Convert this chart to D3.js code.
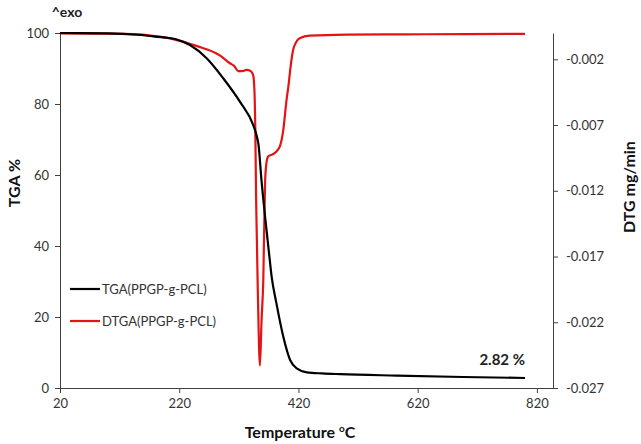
<!DOCTYPE html>
<html lang="en">
<head>
<meta charset="UTF-8">
<title>TGA / DTGA</title>
<style>
  body { margin: 0; background: #fff; }
  text { font-family: Lato, "Open Sans", sans-serif; }
</style>
</head>
<body>
<script src="https://d3js.org/d3.v7.min.js"></script>
<script>
// temperatures (°C) and TGA mass (%)
var tgaTemp = [20, 100, 150, 180, 213, 238, 266, 294, 322, 344, 350, 353, 358, 364, 370, 375, 383, 394.5, 406, 417, 434, 460, 490, 585, 696, 800];
var tgaMass = [100, 99.9, 99.5, 99.0, 98.3, 96.6, 92.9, 87.2, 80.6, 74.1, 71, 68.5, 58.5, 48.3, 39, 31.4, 23.9, 14.5, 7.9, 5.5, 4.4, 4.1, 3.9, 3.5, 3.1, 2.82];

// temperatures (°C) and DTG (mg/min)
var dtgTemp = [20, 100, 150, 190, 213, 250, 288, 305, 312, 319, 326, 333, 340, 344, 346, 347.5, 349, 352, 355.4, 358, 361, 364, 366, 369, 378, 385, 389, 394.5, 400, 403, 407, 411, 416, 422, 439, 500, 600, 700, 800];
var dtgVal = [-0.00003, -0.00005, -0.0001, -0.0003, -0.0005, -0.001, -0.0017, -0.0023, -0.0025, -0.0029, -0.0029, -0.0028, -0.0029, -0.0032, -0.0042, -0.007, -0.0127, -0.020, -0.0253, -0.022, -0.0188, -0.0114, -0.0100, -0.0094, -0.0092, -0.0089, -0.0086, -0.0074, -0.0051, -0.0041, -0.0025, -0.0013, -0.0007, -0.0004, -0.0002, -0.00012, -0.0001, -0.00008, -0.00007];

var xTicks = [20, 220, 420, 620, 820];
var leftTicks = [0, 20, 40, 60, 80, 100];
var rightTicks = [-0.027, -0.022, -0.017, -0.012, -0.007, -0.002];

var seriesNames = ["TGA(PPGP-g-PCL)", "DTGA(PPGP-g-PCL)"];
var seriesColors = ["#000000", "#e31414"];

var W = 641, H = 444;
var margin = { left: 60, right: 88, top: 33, bottom: 56 };
var axisColor = "#404040";

var svg = d3.select("body").append("svg")
    .attr("width", W)
    .attr("height", H);

var x = d3.scaleLinear().domain([20, 847]).range([margin.left, W - margin.right]);
var yL = d3.scaleLinear().domain([0, 100]).range([H - margin.bottom, margin.top]);
var yR = d3.scaleLinear().domain([-0.027, 0]).range([H - margin.bottom, margin.top]);

function styleAxis(g) {
  g.selectAll("path, line").attr("stroke", axisColor);
  g.selectAll("text").attr("fill", "#333").style("font-size", "13px")
   .style("font-family", "Lato, 'Open Sans', sans-serif");
}

// axes
svg.append("g")
  .attr("transform", "translate(0," + (H - margin.bottom) + ")")
  .call(d3.axisBottom(x).tickValues(xTicks).tickSize(5).tickSizeOuter(0).tickPadding(6))
  .call(styleAxis);

svg.append("g")
  .attr("transform", "translate(" + margin.left + ",0)")
  .call(d3.axisLeft(yL).tickValues(leftTicks).tickSize(5).tickSizeOuter(0).tickPadding(6))
  .call(styleAxis);

svg.append("g")
  .attr("transform", "translate(" + (W - margin.right) + ",0)")
  .call(d3.axisRight(yR).tickValues(rightTicks).tickSize(5).tickSizeOuter(0).tickPadding(8)
        .tickFormat(function (d) { return d.toFixed(3); }))
  .call(styleAxis);

// curves
var tgaData = tgaTemp.map(function (t, i) { return [t, tgaMass[i]]; });
var dtgData = dtgTemp.map(function (t, i) { return [t, dtgVal[i]]; });

svg.append("path")
  .datum(dtgData)
  .attr("fill", "none")
  .attr("stroke", seriesColors[1])
  .attr("stroke-width", 2.2)
  .attr("d", d3.line().x(function (d) { return x(d[0]); }).y(function (d) { return yR(d[1]); })
        .curve(d3.curveMonotoneX));

svg.append("path")
  .datum(tgaData)
  .attr("fill", "none")
  .attr("stroke", seriesColors[0])
  .attr("stroke-width", 2.2)
  .attr("d", d3.line().x(function (d) { return x(d[0]); }).y(function (d) { return yL(d[1]); })
        .curve(d3.curveMonotoneX));

// legend
var legend = svg.append("g");
seriesNames.forEach(function (name, i) {
  var ly = 289 + i * 32;
  legend.append("line")
    .attr("x1", 70).attr("x2", 100).attr("y1", ly).attr("y2", ly)
    .attr("stroke", seriesColors[i]).attr("stroke-width", 2.2);
  legend.append("text")
    .attr("x", 102).attr("y", ly).attr("dy", "0.35em")
    .attr("fill", "#333").style("font-size", "13px")
    .text(name);
});

// titles
svg.append("text")
  .attr("x", 67).attr("y", 12).attr("dy", "0.35em")
  .attr("text-anchor", "middle")
  .style("font-size", "14px").style("font-weight", "bold").attr("fill", "#222")
  .text("^exo");

svg.append("text")
  .attr("transform", "translate(14,183) rotate(-90)")
  .attr("text-anchor", "middle").attr("dy", "0.35em")
  .style("font-size", "16px").style("font-weight", "bold").attr("fill", "#111")
  .text("TGA %");

svg.append("text")
  .attr("transform", "translate(629,187) rotate(-90)")
  .attr("text-anchor", "middle").attr("dy", "0.35em")
  .style("font-size", "16px").style("font-weight", "bold").attr("fill", "#111")
  .text("DTG mg/min");

var xt = svg.append("text")
  .attr("x", 300).attr("y", 432).attr("dy", "0.35em")
  .attr("text-anchor", "middle")
  .style("font-size", "16px").style("font-weight", "bold").attr("fill", "#111");
xt.append("tspan").text("Temperature ");
xt.append("tspan").attr("baseline-shift", "super").style("font-size", "10px").text("o");
xt.append("tspan").text("C");

svg.append("text")
  .attr("x", 525).attr("y", 360).attr("dy", "0.35em")
  .attr("text-anchor", "end")
  .style("font-size", "15px").style("font-weight", "bold").attr("fill", "#222")
  .text("2.82 %");
</script>
</body>
</html>
